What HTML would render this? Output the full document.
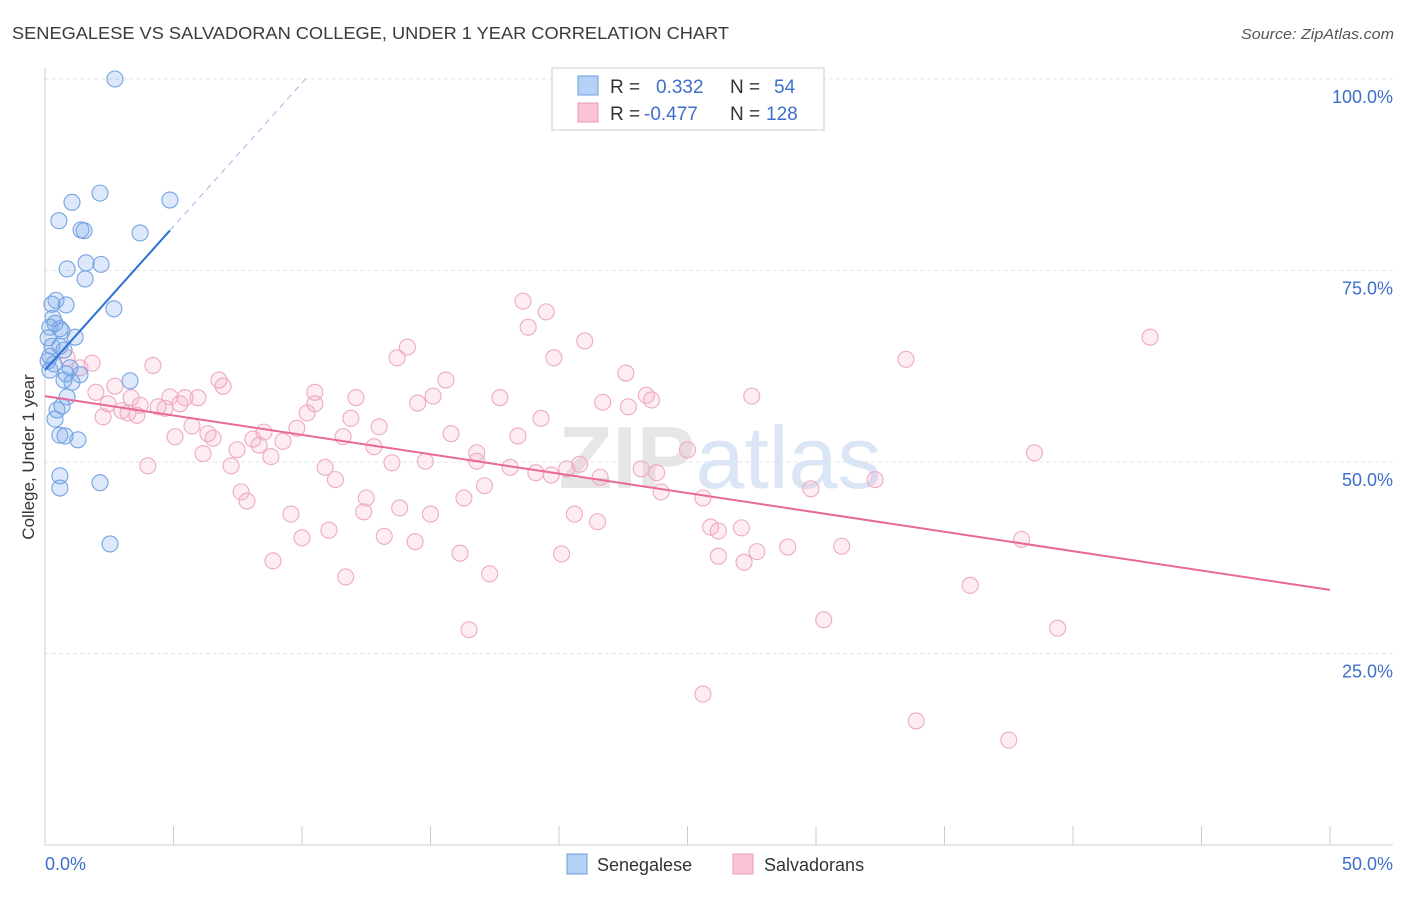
<!DOCTYPE html>
<html><head><meta charset="utf-8"><style>
body{margin:0;background:#fff;font-family:"Liberation Sans",sans-serif}
svg text{font-family:"Liberation Sans",sans-serif}
</style></head><body>
<svg id="chart" width="1406" height="892" xmlns="http://www.w3.org/2000/svg">
<text x="12" y="39" font-size="17.5" fill="#3a3a3a" textLength="717" lengthAdjust="spacingAndGlyphs">SENEGALESE VS SALVADORAN COLLEGE, UNDER 1 YEAR CORRELATION CHART</text>
<text x="1241" y="39" font-size="14.5" fill="#555" font-style="italic" textLength="153" lengthAdjust="spacingAndGlyphs">Source: ZipAtlas.com</text>
<g id="grid"></g>
<text x="720" y="488" font-size="88" text-anchor="middle" fill="#e6e6e6" font-family="Liberation Serif" font-weight="bold">ZIP<tspan fill="#dae5f5" font-family="Liberation Sans" font-weight="normal">atlas</tspan></text>
<g id="marks"></g>
<text transform="translate(34,457) rotate(-90)" font-size="17" fill="#333" text-anchor="middle">College, Under 1 year</text>
<g>
<rect x="552" y="68" width="272" height="62" fill="#fff" stroke="#ccc"/>
<rect x="578" y="76" width="20" height="19" fill="#b5d1f5" stroke="#6a9de0"/>
<rect x="578" y="103" width="20" height="19" fill="#fac4d4" stroke="#e89ab5"/>
<text x="610" y="93" font-size="19" fill="#333">R = </text><text x="656" y="93" font-size="19" fill="#3d6fcc">0.332</text>
<text x="730" y="93" font-size="19" fill="#333">N = </text><text x="774" y="93" font-size="19" fill="#3d6fcc">54</text>
<text x="610" y="120" font-size="19" fill="#333">R = </text><text x="644" y="120" font-size="19" fill="#3d6fcc">-0.477</text>
<text x="730" y="120" font-size="19" fill="#333">N = </text><text x="766" y="120" font-size="19" fill="#3d6fcc">128</text>
</g>
<g>
<rect x="567" y="854" width="20" height="20" fill="#b5d1f5" stroke="#6a9de0"/>
<text x="597" y="871" font-size="18" fill="#333">Senegalese</text>
<rect x="733" y="854" width="20" height="20" fill="#fac4d4" stroke="#e89ab5"/>
<text x="764" y="871" font-size="18" fill="#333">Salvadorans</text>
</g>
</svg>
<script>
const yTicks=[25,50,75,100];
const yTickLabels=["25.0%","50.0%","75.0%","100.0%"];
const xTickLabels=["0.0%","50.0%"];
const blueX=[2.72,2.14,4.86,1.05,0.54,1.40,1.52,3.70,1.60,2.18,0.86,1.56,0.43,0.27,0.82,2.68,0.31,0.39,0.19,0.58,0.66,1.17,0.12,0.27,0.58,0.74,0.19,0.12,0.35,0.97,0.19,0.82,1.36,0.74,1.05,3.31,0.86,0.66,0.47,0.39,0.58,0.78,1.28,0.58,0.58,2.14,2.53];
const blueY=[100,85.1,84.2,83.9,81.5,80.3,80.2,79.9,76.0,75.8,75.2,73.9,71.1,70.6,70.5,70.0,68.8,68.1,67.6,67.4,67.1,66.3,66.2,65.1,65.1,64.6,63.8,63.2,62.8,62.3,62.0,61.5,61.4,60.7,60.4,60.6,58.5,57.3,56.8,55.6,53.5,53.4,52.9,48.2,46.6,47.3,39.3];
const pinkX=[18.6,19.5,18.8,21.0,14.1,13.7,19.8,43.0,33.5,4.2,1.83,0.86,1.36,22.6,15.6,6.77,6.93,2.72,1.98,10.5,15.1,12.1,17.7,23.4,23.6,27.5,3.35,4.86,5.45,5.95,10.5,14.5,21.7,22.7,2.45,3.70,5.25,4.4,4.67,2.99,3.23,2.26,3.58,10.2,11.9,19.3,5.72,9.8,13.0,8.52,15.8,18.4,5.06,6.34,6.54,8.09,9.26,11.6,8.33,7.47,12.8,16.8,25.0,38.5,6.15,8.79,14.8,16.8,13.5,4.0,7.24,10.9,18.1,20.8,20.3,19.1,19.7,23.2,23.8,21.6,11.3,17.1,32.3,29.8,23.97,7.63,7.86,12.5,16.3,25.6,13.8,12.4,9.57,15.0,20.6,21.5,25.9,26.2,27.1,11.05,13.2,10.0,38.0,14.4,28.9,31.0,27.7,16.15,20.1,26.2,27.2,8.87,17.3,11.7,36.0,30.3,16.5,39.4,25.6,33.9,37.5];
const pinkY=[71.0,69.6,67.6,65.8,65.0,63.6,63.6,66.3,63.4,62.6,62.9,63.6,62.3,61.6,60.7,60.7,59.9,59.9,59.1,59.1,58.6,58.4,58.4,58.7,58.1,58.6,58.4,58.5,58.4,58.4,57.6,57.7,57.8,57.2,57.6,57.4,57.6,57.2,57.0,56.7,56.4,55.9,56.1,56.4,55.7,55.7,54.7,54.4,54.6,53.9,53.7,53.4,53.3,53.7,53.1,53.0,52.7,53.3,52.2,51.6,52.0,51.2,51.6,51.2,51.1,50.7,50.1,50.1,49.9,49.5,49.5,49.3,49.3,49.7,49.1,48.6,48.3,49.1,48.6,48.0,47.7,46.9,47.7,46.5,46.1,46.1,44.9,45.3,45.3,45.3,44.0,43.5,43.2,43.2,43.2,42.2,41.5,41.0,41.4,41.1,40.3,40.1,39.9,39.6,38.9,39.0,38.3,38.1,38.0,37.7,36.9,37.1,35.4,35.0,33.9,29.4,28.1,28.3,19.7,16.2,13.7];
const blueFit=[62.0,3.75];
const pinkFit=[58.6,-0.506];
const NS="http://www.w3.org/2000/svg";
const xs=v=>45+v*(1285/50);
const ys=v=>845-v*7.66;
function mk(tag,attrs,parent){const e=document.createElementNS(NS,tag);for(const k in attrs)e.setAttribute(k,attrs[k]);parent.appendChild(e);return e;}
const grid=document.getElementById('grid'),marks=document.getElementById('marks');
yTicks.forEach((t,i)=>{
 const l=mk('line',{x1:45,x2:1393,y1:ys(t),y2:ys(t),stroke:'#e3e3e3','stroke-dasharray':'4,3'},grid);
 
 
 const tx=mk('text',{x:1393,y:ys(t)+24,'font-size':18,fill:'#3d6fcc','text-anchor':'end'},grid);
 tx.textContent=yTickLabels[i];
 
 
});
const ax=mk('line',{x1:45,x2:45,y1:68,y2:845,stroke:'#ccc'},grid);


const bx=mk('line',{x1:45,x2:1393,y1:845,y2:845,stroke:'#ccc'},grid);


for(let i=0;i<=10;i++){const tk=mk('line',{x1:xs(i*5),x2:xs(i*5),y1:826,y2:845,stroke:'#ccc'},grid);
 
 }
[[0,'start',45],[1,'end',1393]].forEach(([i,a,x])=>{const t=mk('text',{x:x,y:870,'font-size':18,fill:'#3d6fcc','text-anchor':a},grid);t.textContent=xTickLabels[i];
 
 });
pinkX.forEach((x,i)=>{const c=mk('circle',{cx:xs(x),cy:ys(pinkY[i]),r:8,fill:'rgba(244,170,196,0.22)',stroke:'#eeaac2','stroke-width':1.1},marks);
 
 });
blueX.forEach((x,i)=>{const c=mk('circle',{cx:xs(x),cy:ys(blueY[i]),r:8,fill:'rgba(120,168,235,0.25)',stroke:'#76a3e2','stroke-width':1.1},marks);
 
 });
const pl=mk('line',{x1:xs(0),y1:ys(pinkFit[0]),x2:xs(50),y2:ys(pinkFit[0]+pinkFit[1]*50),stroke:'#e8689a','stroke-width':2},marks);


const bl=mk('line',{x1:xs(0),y1:ys(blueFit[0]),x2:xs(4.86),y2:ys(blueFit[0]+blueFit[1]*4.86),stroke:'#2b6fd6','stroke-width':2},marks);


const bd=mk('line',{x1:xs(4.86),y1:ys(blueFit[0]+blueFit[1]*4.86),x2:xs(10.2),y2:ys(blueFit[0]+blueFit[1]*10.2),stroke:'#9bbbe8','stroke-width':1,'stroke-dasharray':'6,5'},marks);


</script>
</body></html>
